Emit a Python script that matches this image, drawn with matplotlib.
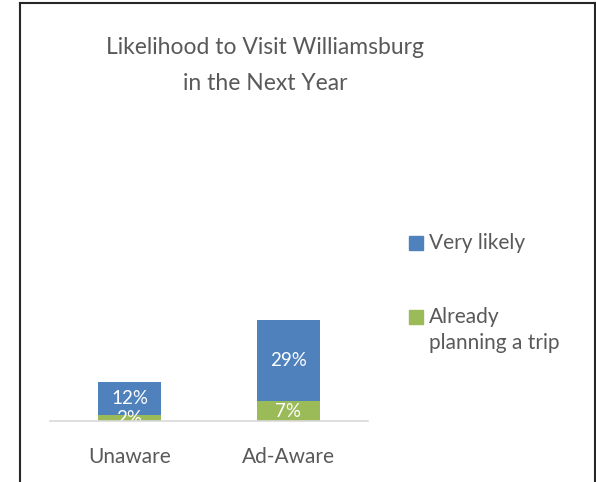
import matplotlib
matplotlib.use("Agg")
import matplotlib.pyplot as plt
from matplotlib.patches import Rectangle
from matplotlib.lines import Line2D

categories = ["Unaware", "Ad-Aware"]
already_planning = [2, 7]
very_likely = [12, 29]
series_names = ["Very likely", "Already\nplanning a trip"]
title = "Likelihood to Visit Williamsburg\nin the Next Year"

BLUE = "#4F81BD"
GREEN = "#9BBB59"
GREY_TXT = "#595959"
FONT = "Lato"

W, H = 596, 482
fig = plt.figure(figsize=(W / 100, H / 100), dpi=100)
fig.patch.set_facecolor("white")

def fx(px):
    return px / W

def fy(py):
    return 1 - py / H

# axes: baseline at y=421, categories centered at x=129 and 288
ax_left, ax_right = 50, 368
base_y = 421
ymax = 40
px_per_unit = 2.8
ax_top = base_y - ymax * px_per_unit
ax = fig.add_axes([fx(ax_left), fy(base_y), (ax_right - ax_left) / W, (base_y - ax_top) / H])
ax.set_xlim(-0.5, 1.5)
ax.set_ylim(0, ymax)

x = list(range(len(categories)))
bw = 0.396
b1 = ax.bar(x, already_planning, width=bw, color=GREEN, zorder=2)
b2 = ax.bar(x, very_likely, width=bw, bottom=already_planning, color=BLUE, zorder=2)

for i in x:
    ax.text(i, already_planning[i] / 2, f"{already_planning[i]}%", ha="center", va="center",
            color="white", fontsize=13.5, family=FONT, zorder=3, clip_on=False)
    ax.text(i, already_planning[i] + very_likely[i] / 2, f"{very_likely[i]}%", ha="center",
            va="center", color="white", fontsize=13.5, family=FONT, zorder=3)

for s in ["top", "right", "left"]:
    ax.spines[s].set_visible(False)
ax.spines["bottom"].set_color("#D9D9D9")
ax.spines["bottom"].set_linewidth(1.2)
ax.spines["bottom"].set_zorder(4)
ax.set_yticks([])
ax.set_xticks(x)
ax.set_xticklabels(categories, fontsize=15, color=GREY_TXT, family=FONT)
ax.tick_params(axis="x", length=0, pad=19)
ax.patch.set_alpha(0)

# title
fig.text(fx(265.5), fy(65.5), title, ha="center", va="center", fontsize=16.5, color=GREY_TXT,
         family=FONT, linespacing=1.85)

# legend (manual)
leg_colors = [BLUE, GREEN]
leg_y = [243, 317]
for c, name, yy in zip(leg_colors, series_names, leg_y):
    fig.add_artist(Rectangle((fx(409), fy(yy + 7)), 14 / W, 14 / H, transform=fig.transFigure,
                             color=c))
    lines = name.split("\n")
    for k, ln in enumerate(lines):
        fig.text(fx(429), fy(yy + 26 * k), ln, ha="left", va="center",
                 fontsize=15, color=GREY_TXT, family=FONT)

# border
bc = "#262626"
fig.add_artist(Line2D([fx(20), fx(20)], [fy(3), 0], transform=fig.transFigure, color=bc, lw=1.5))
fig.add_artist(Line2D([fx(20), fx(595)], [fy(3), fy(3)], transform=fig.transFigure, color=bc, lw=1.5))
fig.add_artist(Line2D([fx(594.5), fx(594.5)], [fy(3), 0], transform=fig.transFigure, color=bc, lw=1.5))

fig.savefig("out.png", dpi=100)
